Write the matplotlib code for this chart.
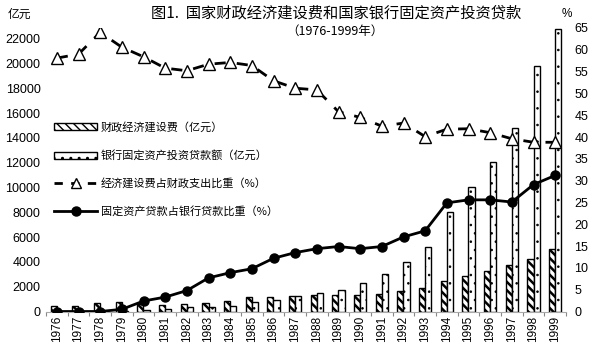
import matplotlib
matplotlib.use("Agg")
import matplotlib.pyplot as plt
import numpy as np
from matplotlib.lines import Line2D
from matplotlib.patches import Patch

plt.rcParams['font.family'] = ['Liberation Sans', 'Noto Sans CJK SC', 'DejaVu Sans']

years = [str(y) for y in range(1976, 2000)]
fiscal_construction = [420, 480, 700, 800, 620, 540, 620, 670, 830, 1150, 1150, 1230,
                       1300, 1315, 1370, 1450, 1640, 1855, 2420, 2900, 3300, 3710, 4270, 5080]
bank_fixed_loans = [0, 0, 0, 40, 160, 220, 350, 400, 480, 750, 940, 1250,
                    1480, 1770, 2260, 3060, 4000, 5220, 8060, 10050, 12070, 14760, 19800, 22800]
construction_share = [58.1, 59.0, 64.0, 60.6, 58.4, 55.8, 55.2, 56.7, 57.1, 56.4, 52.9, 51.2,
                      50.8, 45.8, 44.5, 42.5, 43.2, 40.1, 41.8, 41.9, 41.0, 39.6, 38.8, 38.8]
loan_share = [0, 0, 0, 0.5, 2.4, 3.3, 4.8, 7.7, 8.9, 9.8, 12.2, 13.5,
              14.4, 14.9, 14.4, 14.9, 17.1, 18.5, 24.9, 25.6, 25.6, 25.1, 29.1, 31.2]
left_ticks = list(range(0, 22001, 2000))
right_ticks = list(range(0, 66, 5))

W, H = 592, 353
fig = plt.figure(figsize=(W / 100, H / 100), dpi=100)
ax = fig.add_axes([46 / W, 1 - 311.5 / H, (566 - 46) / W, (311.5 - 28) / H])
ax2 = ax.twinx()

x = np.arange(len(years))
bw = 0.28
with plt.rc_context({'hatch.linewidth': 1.8}):
    ax.bar(x - bw / 2, fiscal_construction, bw, facecolor='white', edgecolor='black',
           hatch='\\\\\\\\', linewidth=1.0)
    h1 = Patch(facecolor='white', edgecolor='black', hatch='\\\\\\\\', linewidth=1.0)
with plt.rc_context({'hatch.linewidth': 0.6}):
    ax.bar(x + bw / 2, bank_fixed_loans, bw, facecolor='white', edgecolor='black',
           hatch='..', linewidth=1.0)
    h2 = Patch(facecolor='white', edgecolor='black', hatch='..', linewidth=1.0)

ax2.plot(x, construction_share, color='black', linestyle=(0, (4, 4)), linewidth=2,
         marker='^', markersize=8, markerfacecolor='white', markeredgecolor='black',
         markeredgewidth=1.0)
ax2.plot(x, loan_share, color='black', linestyle='-', linewidth=2,
         marker='o', markersize=6.5, markerfacecolor='black', markeredgecolor='black')

ax.set_xlim(-0.5, len(years) - 0.5)
ax.set_ylim(0, 22860)
ax2.set_ylim(0, 65)
ax.set_yticks(left_ticks)
ax.set_yticklabels([str(v) for v in left_ticks], fontsize=9)
ax2.set_yticks(right_ticks)
ax2.set_yticklabels([str(v) for v in right_ticks], fontsize=9)
ax.set_xticks(x)
ax.set_xticklabels(years, rotation=90, fontsize=8.5)
ax.set_xticks(np.arange(-0.5, len(years), 1), minor=True)
ax.tick_params(axis='x', which='major', length=0, pad=3)
ax.tick_params(axis='x', which='minor', length=3, color='#888888', width=0.8)
ax.tick_params(axis='y', length=0, pad=4)
ax2.tick_params(axis='y', length=0, pad=6)

for a in (ax, ax2):
    for s in a.spines.values():
        s.set_visible(False)
ax.spines['bottom'].set_visible(True)
ax.spines['bottom'].set_color('#aaaaaa')
ax.spines['bottom'].set_linewidth(0.8)

cjk = ['Noto Sans CJK SC', 'DejaVu Sans']
fig.text(336 / W, 1 - 13 / H, '图1.  国家财政经济建设费和国家银行固定资产投资贷款',
         ha='center', va='center', fontsize=11, family=cjk)
fig.text(335 / W, 1 - 31 / H, '（1976-1999年）', ha='center', va='center',
         fontsize=9, family=cjk)
fig.text(8 / W, 1 - 14 / H, '亿元', ha='left', va='center', fontsize=8.5, family=cjk)
fig.text(567 / W, 1 - 14 / H, '%', ha='center', va='center', fontsize=8.5)

handles = [
    h1, h2,
    Line2D([], [], color='black', linestyle=(0, (3, 3)), linewidth=2, marker='^',
           markersize=7.5, markerfacecolor='white', markeredgecolor='black'),
    Line2D([], [], color='black', linestyle='-', linewidth=2, marker='o',
           markersize=6.5, markerfacecolor='black'),
]
labels = ['财政经济建设费（亿元）', '银行固定资产投资贷款额（亿元）',
          '经济建设费占财政支出比重（%）', '固定资产贷款占银行贷款比重（%）']
leg = fig.legend(handles, labels, loc='upper left',
                 bbox_to_anchor=(54 / W, 1 - 122 / H), frameon=False,
                 prop={'family': cjk, 'size': 8}, handlelength=3.9,
                 handleheight=0.6, handletextpad=0.3, labelspacing=1.55,
                 borderpad=0, borderaxespad=0)

fig.savefig('out.png', dpi=100)
